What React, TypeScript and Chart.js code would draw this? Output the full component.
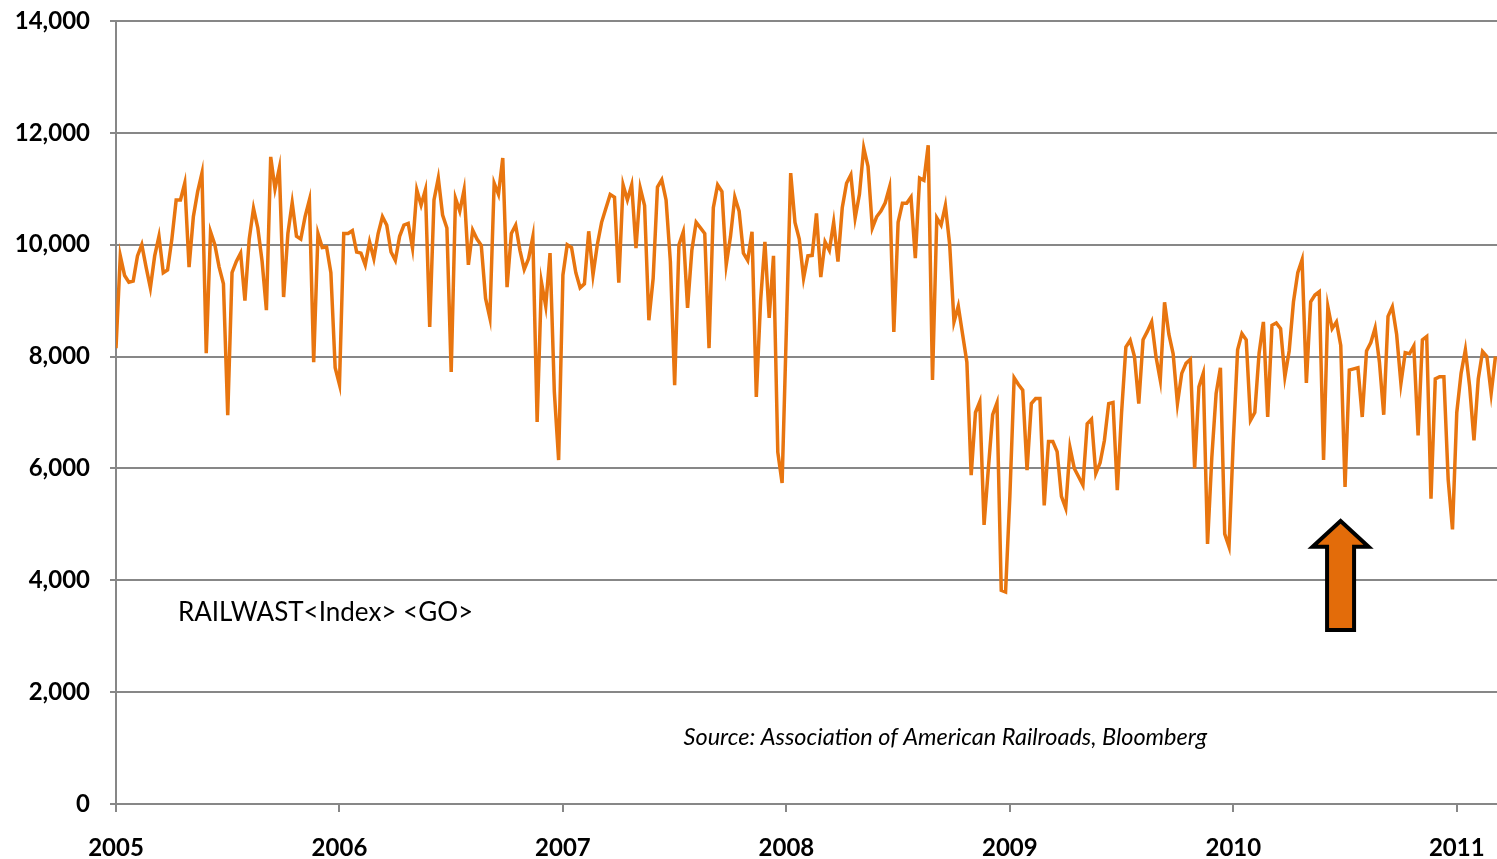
import React, { useEffect, useRef } from "react";
import { Chart, registerables } from "chart.js";

Chart.register(...registerables);

// Weekly rail carloads (RAILWAST index)
const w2005 = [8150, 9800, 9450, 9330, 9350, 9800, 10000, 9600, 9230, 9800, 10150, 9500, 9550, 10100, 10800, 10800, 11100, 9600, 10500, 10950, 11280, 8060, 10230, 10000, 9600, 9300, 6950, 9500, 9700, 9850, 9000, 10100, 10650, 10300, 9700, 8830, 11570, 11000, 11370, 9065, 10200, 10750, 10150, 10100, 10500, 10800, 7900, 10200, 9950, 9960, 9500, 7800];
const w2006 = [7500, 10200, 10200, 10250, 9870, 9850, 9640, 10050, 9750, 10200, 10500, 10350, 9870, 9720, 10150, 10350, 10380, 9940, 10980, 10710, 10980, 8530, 10800, 11190, 10530, 10300, 7725, 10830, 10600, 10980, 9640, 10260, 10100, 9990, 9040, 8690, 11100, 10900, 11550, 9240, 10200, 10350, 9900, 9560, 9750, 10140, 6830, 9330, 8900, 9850, 7370, 6150];
const w2007 = [9460, 10000, 9950, 9500, 9230, 9300, 10240, 9460, 10000, 10400, 10650, 10900, 10850, 9320, 11070, 10800, 11070, 9940, 11010, 10700, 8650, 9400, 11030, 11160, 10800, 9700, 7490, 10000, 10230, 8870, 9900, 10400, 10300, 10200, 8150, 10660, 11070, 10950, 9640, 10150, 10850, 10600, 9850, 9720, 10230, 7280, 9000, 10050, 8690, 9800, 6290, 5740];
const w2008 = [8500, 11280, 10400, 10100, 9400, 9800, 9810, 10560, 9420, 10050, 9900, 10400, 9700, 10660, 11100, 11250, 10480, 10900, 11730, 11400, 10300, 10500, 10600, 10750, 11030, 8440, 10400, 10740, 10740, 10850, 9760, 11190, 11150, 11780, 7580, 10480, 10350, 10700, 10000, 8620, 8900, 8400, 7900, 5880, 7000, 7190, 4990, 6000, 6960, 7170, 3820, 3790];
const w2009 = [5500, 7620, 7500, 7400, 5970, 7160, 7250, 7250, 5340, 6480, 6480, 6300, 5500, 5290, 6370, 6000, 5850, 5700, 6800, 6880, 5910, 6100, 6500, 7160, 7180, 5610, 7000, 8170, 8290, 8000, 7160, 8300, 8450, 8620, 8000, 7580, 8970, 8400, 8050, 7160, 7700, 7880, 7950, 6000, 7460, 7700, 4650, 6200, 7340, 7800, 4830, 4600];
const w2010 = [6500, 8120, 8410, 8300, 6860, 7000, 8060, 8620, 6920, 8560, 8600, 8500, 7640, 8100, 8980, 9500, 9730, 7530, 8980, 9100, 9160, 6150, 8890, 8500, 8620, 8200, 5670, 7760, 7780, 7800, 6920, 8100, 8250, 8510, 7900, 6960, 8720, 8890, 8400, 7520, 8070, 8050, 8190, 6590, 8300, 8360, 5460, 7600, 7640, 7640, 5800, 4910];
const w2011 = [7000, 7700, 8120, 7460, 6500, 7600, 8090, 8000, 7340, 8000];

const startYear = 2005;
const weeksPerYear = 52;
const yearTicks = [2005, 2006, 2007, 2008, 2009, 2010, 2011];
const valueTicks = [0, 2000, 4000, 6000, 8000, 10000, 12000, 14000];
const seriesNote = "RAILWAST<Index> <GO>";
const sourceNote = "Source: Association of American Railroads, Bloomberg";

const allWeeks = [...w2005, ...w2006, ...w2007, ...w2008, ...w2009, ...w2010, ...w2011];
const points = allWeeks.map((v, i) => ({ x: startYear + i / weeksPerYear, y: v }));

const FONT = "Lato, 'Open Sans', 'DejaVu Sans', sans-serif";
const GRID = "#878787";
const ORANGE = "#E8750F";

const zeroPadding = (s: any) => {
  s.paddingTop = 0;
  s.paddingBottom = 0;
  s.paddingLeft = 0;
  s.paddingRight = 0;
};

const annotationPlugin = {
  id: "annotations",
  afterDatasetsDraw(chart: any) {
    const { ctx, scales } = chart;
    const x = scales.x;
    const y = scales.y;
    // arrow
    const cx = x.getPixelForValue(2010.48);
    const tipY = y.getPixelForValue(5060);
    const headY = y.getPixelForValue(4600);
    const baseY = y.getPixelForValue(3110);
    const headHalf = 28;
    const shaftHalf = 13.5;
    ctx.save();
    ctx.beginPath();
    ctx.moveTo(cx, tipY);
    ctx.lineTo(cx + headHalf, headY);
    ctx.lineTo(cx + shaftHalf, headY);
    ctx.lineTo(cx + shaftHalf, baseY);
    ctx.lineTo(cx - shaftHalf, baseY);
    ctx.lineTo(cx - shaftHalf, headY);
    ctx.lineTo(cx - headHalf, headY);
    ctx.closePath();
    ctx.fillStyle = "#E36C0A";
    ctx.fill();
    ctx.lineWidth = 4;
    ctx.lineJoin = "miter";
    ctx.strokeStyle = "#000";
    ctx.stroke();

    // texts
    ctx.fillStyle = "#000";
    ctx.textBaseline = "middle";
    ctx.textAlign = "left";
    ctx.font = `26px ${FONT}`;
    ctx.fillText(seriesNote, x.getPixelForValue(2005.277), y.getPixelForValue(3415));
    ctx.font = `italic 23.5px ${FONT}`;
    ctx.fillText(sourceNote, x.getPixelForValue(2007.54), y.getPixelForValue(1198));
    ctx.restore();
  },
};

export default function App() {
  const ref = useRef<HTMLCanvasElement | null>(null);
  useEffect(() => {
    if (!ref.current) return;
    const chart = new Chart(ref.current, {
      type: "line",
      data: {
        datasets: [
          {
            data: points,
            borderColor: ORANGE,
            borderWidth: 3.5,
            pointRadius: 0,
            tension: 0,
            fill: false,
          },
        ],
      },
      options: {
        responsive: false,
        animation: false,
        layout: { padding: { top: 21, right: 0, left: 0, bottom: 0 } },
        plugins: { legend: { display: false }, tooltip: { enabled: false } },
        scales: {
          x: {
            type: "linear",
            min: 2005,
            max: 2011.18,
            afterBuildTicks: (axis: any) => {
              axis.ticks = yearTicks.map((v) => ({ value: v }));
            },
            afterFit: (s: any) => {
              s.height = 55;
              zeroPadding(s);
            },
            ticks: {
              callback: (v: any) => String(v),
              font: { family: FONT, weight: "bold", size: 24 },
              color: "#000",
              padding: 22,
              maxRotation: 0,
              autoSkip: false,
            },
            grid: { drawOnChartArea: false, color: GRID, lineWidth: 2, tickLength: 8 },
            border: { color: GRID, width: 2 },
          },
          y: {
            min: 0,
            max: 14000,
            afterBuildTicks: (axis: any) => {
              axis.ticks = valueTicks.map((v) => ({ value: v }));
            },
            afterFit: (s: any) => {
              s.width = 116;
              zeroPadding(s);
            },
            ticks: {
              callback: (v: any) => Number(v).toLocaleString("en-US"),
              font: { family: FONT, weight: "bold", size: 24 },
              color: "#000",
              padding: 20,
            },
            grid: { color: GRID, lineWidth: 2, tickLength: 6 },
            border: { color: GRID, width: 2 },
          },
        },
      },
      plugins: [annotationPlugin],
    });
    return () => chart.destroy();
  }, []);
  return (
    <div style={{ position: "absolute", left: 0, top: 0, width: 1497, height: 859, background: "#fff" }}>
      <canvas ref={ref} width={1497} height={859} style={{ display: "block" }} />
    </div>
  );
}
